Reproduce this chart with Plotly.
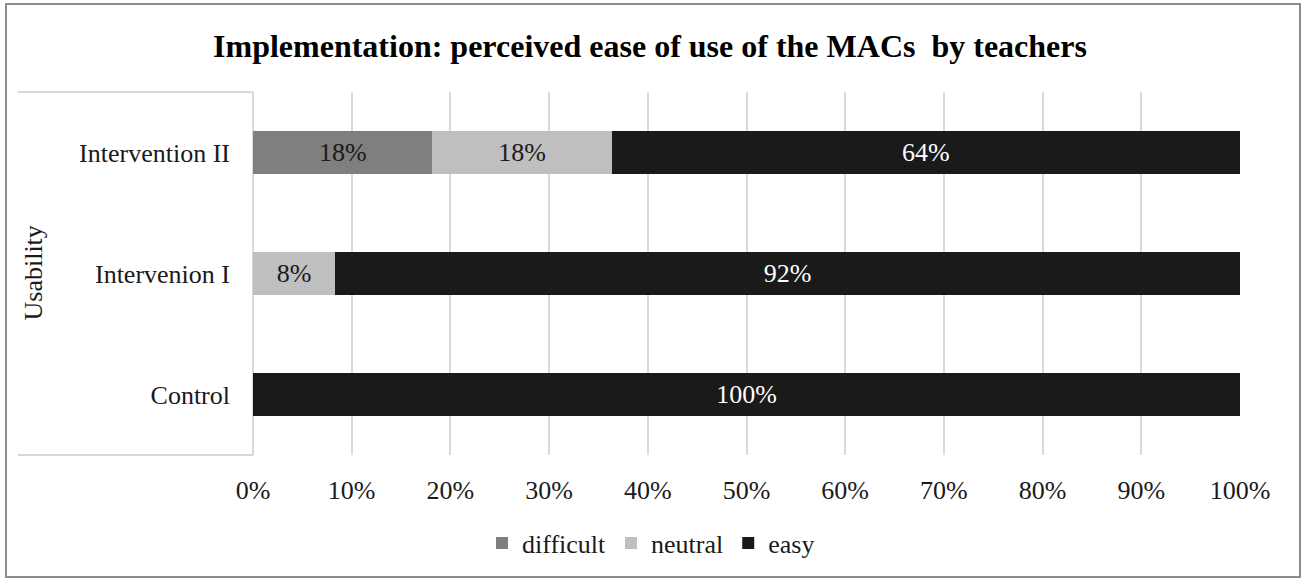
import plotly.graph_objects as go

categories = ["Control", "Intervenion I", "Intervention II"]
difficult = [0, 0, 18.18]
neutral = [0, 8.33, 18.18]
easy = [100, 91.67, 63.64]
series_names = ["difficult", "neutral", "easy"]
series_colors = ["#7f7f7f", "#bfbfbf", "#1a1a1a"]
text_colors = ["#1a1a1a", "#1a1a1a", "#ffffff"]
tick_vals = [0, 10, 20, 30, 40, 50, 60, 70, 80, 90, 100]
tick_text = ["0%", "10%", "20%", "30%", "40%", "50%", "60%", "70%", "80%", "90%", "100%"]

FONT = "Liberation Serif, Times New Roman, serif"
FS = 26

fig = go.Figure()
for name, vals, col, tcol in zip(series_names, [difficult, neutral, easy], series_colors, text_colors):
    labels = [f"{round(v)}%" if v > 0 else "" for v in vals]
    fig.add_trace(go.Bar(
        y=categories, x=vals, name=name, orientation="h",
        marker=dict(color=col, line=dict(width=0)),
        text=labels, textposition="inside", insidetextanchor="middle",
        textangle=0, constraintext="none",
        textfont=dict(family=FONT, size=FS, color=tcol),
        hoverinfo="x+name",
    ))

L, R, T, B = 253, 66, 92, 126
W, H = 1306, 581
pw, ph = W - L - R, H - T - B

def px(x):
    return (x - L) / pw

def py(y):
    return (H - B - y) / ph

shapes = [
    dict(type="rect", xref="paper", yref="paper", x0=px(6), x1=px(1300), y0=py(577), y1=py(4),
         line=dict(color="#8c8c8c", width=2), layer="below"),
    dict(type="line", xref="paper", yref="paper", x0=px(18), x1=0, y0=1, y1=1,
         line=dict(color="#d9d9d9", width=2)),
    dict(type="line", xref="paper", yref="paper", x0=px(18), x1=0, y0=0, y1=0,
         line=dict(color="#d9d9d9", width=2)),
    dict(type="line", xref="paper", yref="paper", x0=0, x1=0, y0=0, y1=1,
         line=dict(color="#d9d9d9", width=2), layer="below"),
]

fig.update_layout(
    width=W, height=H,
    barmode="stack", bargap=0.65,
    paper_bgcolor="white", plot_bgcolor="white",
    margin=dict(l=L, r=R, t=T, b=B),
    font=dict(family=FONT, size=FS, color="#1a1a1a"),
    title=dict(text="<b>Implementation: perceived ease of use of the MACs  by teachers</b>",
               x=650 / W, xref="container", xanchor="center",
               y=1 - 46 / H, yref="container", yanchor="middle",
               font=dict(family=FONT, size=32, color="#000000")),
    xaxis=dict(range=[0, 100], tickvals=tick_vals, ticktext=tick_text,
               showgrid=True, gridcolor="#d9d9d9", gridwidth=2,
               zeroline=False, showline=False, ticks="", ticklabelstandoff=17,
               tickfont=dict(family=FONT, size=FS, color="#1a1a1a"), fixedrange=True),
    yaxis=dict(categoryorder="array", categoryarray=categories,
               showgrid=False, zeroline=False, showline=False, ticks="",
               ticklabelstandoff=22,
               tickfont=dict(family=FONT, size=FS, color="#1a1a1a"), fixedrange=True),
    legend=dict(orientation="h", xref="container", x=651 / W, xanchor="center",
                yref="container", y=1 - 543 / H, yanchor="middle",
                traceorder="normal", font=dict(family=FONT, size=FS, color="#1a1a1a"),
                itemwidth=30, itemsizing="constant"),
    shapes=shapes,
    annotations=[dict(text="Usability", xref="paper", yref="paper",
                      x=px(33), y=0.5, xanchor="center", yanchor="middle",
                      textangle=-90, showarrow=False,
                      font=dict(family=FONT, size=FS, color="#1a1a1a"))],
)

fig.write_html("out.html", config={"displayModeBar": False},
               post_script="document.body.style.margin='0';")
